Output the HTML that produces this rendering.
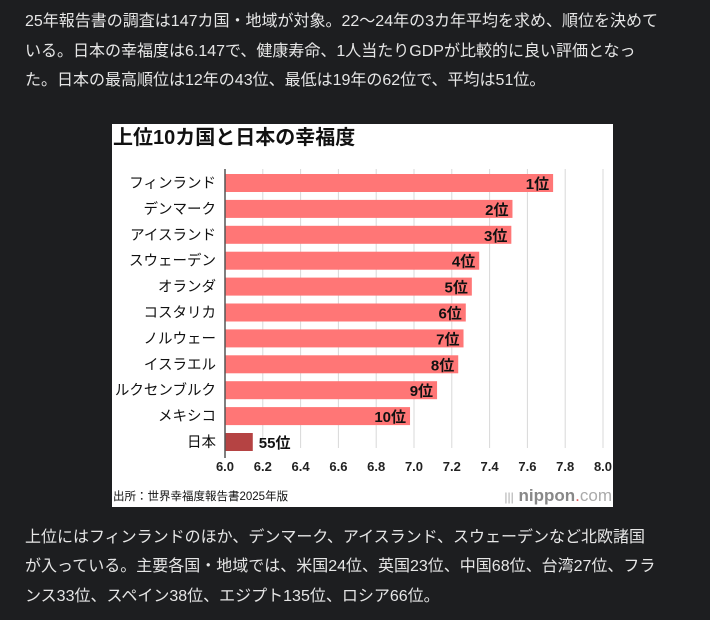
<!DOCTYPE html>
<html><head><meta charset="utf-8"><style>
body{margin:0;width:710px;height:620px;background:#1d1e20;overflow:hidden;position:relative;font-family:"Liberation Sans","Noto Sans CJK JP",sans-serif}
.ln{position:absolute;left:25px;color:#e6e6e6;font-size:16px;white-space:nowrap;line-height:20px}
#panel{position:absolute;left:112px;top:124px;width:501px;height:383px;background:#fff}
</style></head><body>
<div>
<div class="ln" style="top:12px">25年報告書の調査は147カ国・地域が対象。22～24年の3カ年平均を求め、順位を決めて</div>
<div class="ln" style="top:42px">いる。日本の幸福度は6.147で、健康寿命、1人当たりGDPが比較的に良い評価となっ</div>
<div class="ln" style="top:71px">た。日本の最高順位は12年の43位、最低は19年の62位で、平均は51位。</div>
</div>
<div id="panel">
<svg id="chart" width="501" height="383" xmlns="http://www.w3.org/2000/svg"></svg>
</div>
<div>
<div class="ln" style="top:528px">上位にはフィンランドのほか、デンマーク、アイスランド、スウェーデンなど北欧諸国</div>
<div class="ln" style="top:557px">が入っている。主要各国・地域では、米国24位、英国23位、中国68位、台湾27位、フラ</div>
<div class="ln" style="top:587px">ンス33位、スペイン38位、エジプト135位、ロシア66位。</div>
</div>
<script>
const countries=["フィンランド","デンマーク","アイスランド","スウェーデン","オランダ","コスタリカ","ノルウェー","イスラエル","ルクセンブルク","メキシコ","日本"];
const scores=[7.736,7.521,7.515,7.345,7.306,7.274,7.262,7.234,7.122,6.979,6.147];
const ranks=["1位","2位","3位","4位","5位","6位","7位","8位","9位","10位","55位"];
const ticks=[6.0,6.2,6.4,6.6,6.8,7.0,7.2,7.4,7.6,7.8,8.0];
const NS="http://www.w3.org/2000/svg";
const svg=document.getElementById('chart');
const x0=113,x1=491,vmin=6,vmax=8;
const xs=v=>x0+(v-vmin)/(vmax-vmin)*(x1-x0);
const y0=59,step=25.9,bh=18;
const ys=i=>y0+i*step;
function mk(t,a){const e=document.createElementNS(NS,t);for(const k in a)e.setAttribute(k,a[k]);svg.appendChild(e);return e;}
let t=mk('text',{x:1,y:20,'font-size':20,'font-weight':'bold',fill:'#111'});t.textContent="上位10カ国と日本の幸福度";


ticks.forEach(v=>{
 const g=mk('line',{x1:xs(v),x2:xs(v),y1:45,y2:324,stroke:'#d8d8d8','stroke-width':1});
 
 
 const l=mk('text',{x:xs(v),y:347,'font-size':13,'font-weight':'bold','text-anchor':'middle',fill:'#222'});
 l.textContent=v.toFixed(1);
 
 
});
countries.forEach((c,i)=>{
 const jp=i===countries.length-1;
 const yc=ys(i);
 const r=mk('rect',{x:x0,y:yc-bh/2,width:xs(scores[i])-x0,height:bh,fill:jp?'#b54343':'#ff7676'});
 
 
 const lb=mk('text',{x:x0-9,y:yc+5,'font-size':14.5,'text-anchor':'end',fill:'#111'});
 lb.textContent=c;
 
 
 const rk=mk('text',{x:jp?xs(scores[i])+6:xs(scores[i])-4,y:yc+6,'font-size':15,'font-weight':'bold','text-anchor':jp?'start':'end',fill:'#111'});
 rk.textContent=ranks[i];
 
 
});
const ax=mk('line',{x1:x0,x2:x0,y1:45,y2:334,stroke:'#555','stroke-width':1.5});


const src=mk('text',{x:1,y:376,'font-size':11.5,fill:'#111'});src.textContent="出所：世界幸福度報告書2025年版";


const lg=mk('text',{x:500,y:377,'font-size':17,'text-anchor':'end',fill:'#999'});
lg.innerHTML='<tspan fill="#aaa" font-size="12">|||</tspan> <tspan font-weight="bold" fill="#888">nippon</tspan><tspan fill="#e05a5a">.</tspan><tspan fill="#aaa">com</tspan>';


</script>
</body></html>
